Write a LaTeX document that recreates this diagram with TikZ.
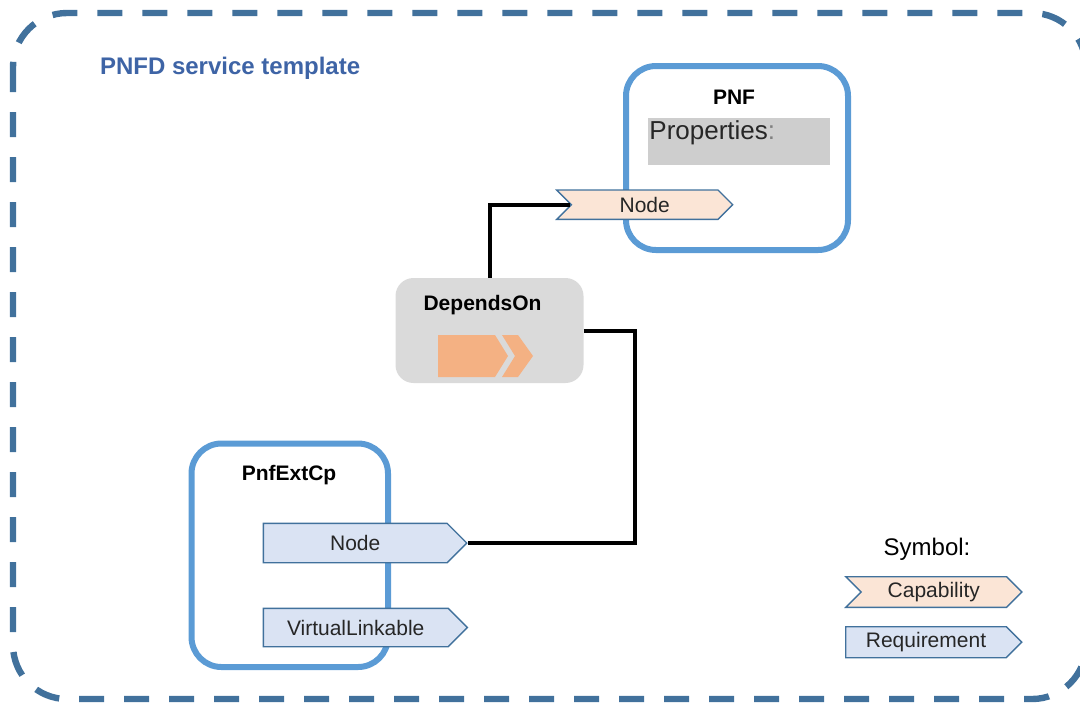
\documentclass[tikz,border=0pt]{standalone}
\usepackage{fontspec}
\setmainfont{Liberation Sans}
\usepackage{tikz}
\usetikzlibrary{shapes}
\usetikzlibrary{positioning}
\usepackage{xcolor}
\definecolor{frameblue}{RGB}{65,113,156}
\definecolor{boxblue}{RGB}{91,155,213}
\definecolor{titleblue}{RGB}{62,100,166}
\definecolor{capfill}{RGB}{251,229,214}
\definecolor{reqfill}{RGB}{218,227,243}
\definecolor{arrowfill}{RGB}{244,177,131}
\definecolor{propgray}{RGB}{206,206,206}
\definecolor{depgray}{RGB}{218,218,218}
\tikzset{
  tmpl/.style={draw=boxblue, line width=3pt, rounded corners=15pt},
  lbl/.style={font=\fontsize{10.5}{12}\selectfont\bfseries},
  capab/.style={signal, signal to=east, signal from=west, draw=frameblue, fill=capfill,
    line width=.7pt, inner sep=0pt, text=black!85, font=\fontsize{10.5}{12}\selectfont},
  requir/.style={signal, signal to=east, draw=frameblue, fill=reqfill,
    line width=.7pt, inner sep=0pt, text=black!85, font=\fontsize{10.5}{12}\selectfont},
  link/.style={line width=2pt, black}
}

\begin{document}
\begin{tikzpicture}[x=0.5pt, y=-0.5pt]
\useasboundingbox (0,0) rectangle (1080,708);
\clip (0,0) rectangle (1080,708);
% service template frame
\draw[frameblue, line width=3.2pt, dash pattern=on 12.5pt off 10pt, rounded corners=27pt]
  (13,13) rectangle (1086,699);
\node[anchor=west, text=titleblue, font=\fontsize{12}{14}\selectfont\bfseries] (title) at (93,68) {PNFD service template};

% PNF
\node[tmpl, minimum width=111pt, minimum height=92pt] (pnf) at (737,158) {};
\node[lbl] (pnflbl) at (734,97) {PNF};
\node[fill=propgray, minimum width=91pt, minimum height=23.5pt] (props) at (739,141.5) {};
\node[anchor=west, inner sep=0pt, text=black!85, font=\fontsize{13}{15}\selectfont] (proptxt) at (649,133) {Properties\textcolor{gray}{:}};
\node[capab, minimum width=88pt, minimum height=14.7pt] (pnfNode) at (644.7,204.7) {Node};

% DependsOn
\node[fill=depgray, rounded corners=9pt, minimum width=94pt, minimum height=52.5pt] (dep) at (489.5,330.5) {};
\node[lbl] (deplbl) at (482.5,305) {DependsOn};
\fill[arrowfill] (438,335)--(495,335)--(508,356)--(495,377)--(438,377)--cycle;
\fill[arrowfill] (502,335)--(518,335)--(533,356)--(518,377)--(502,377)--(515,356)--cycle;

% PnfExtCp
\node[tmpl, minimum width=98.25pt, minimum height=111.75pt] (pec) at (289.75,555.25) {};
\node[lbl] (peclbl) at (289,475) {PnfExtCp};
\node[requir, minimum width=101.7pt, minimum height=19.7pt] (pecNode) at (355.2,543) {Node};
\node[requir, minimum width=102pt, minimum height=19.2pt] (pecVl) at (355.7,627.5) {VirtualLinkable};

% links
\draw[link] (dep.north) |- (pnfNode.west);
\draw[link] (dep.east) -- ++(51,0) |- (pecNode.east);

% legend
\node[font=\fontsize{12}{14}\selectfont] (sym) at (927,549) {Symbol:};
\node[capab, minimum width=88pt, minimum height=15.3pt] (legCap) at (933.8,592) {Capability};
\node[requir, minimum width=88pt, minimum height=15.5pt] (legReq) at (926,642.2) {Requirement};
\end{tikzpicture}
\end{document}
